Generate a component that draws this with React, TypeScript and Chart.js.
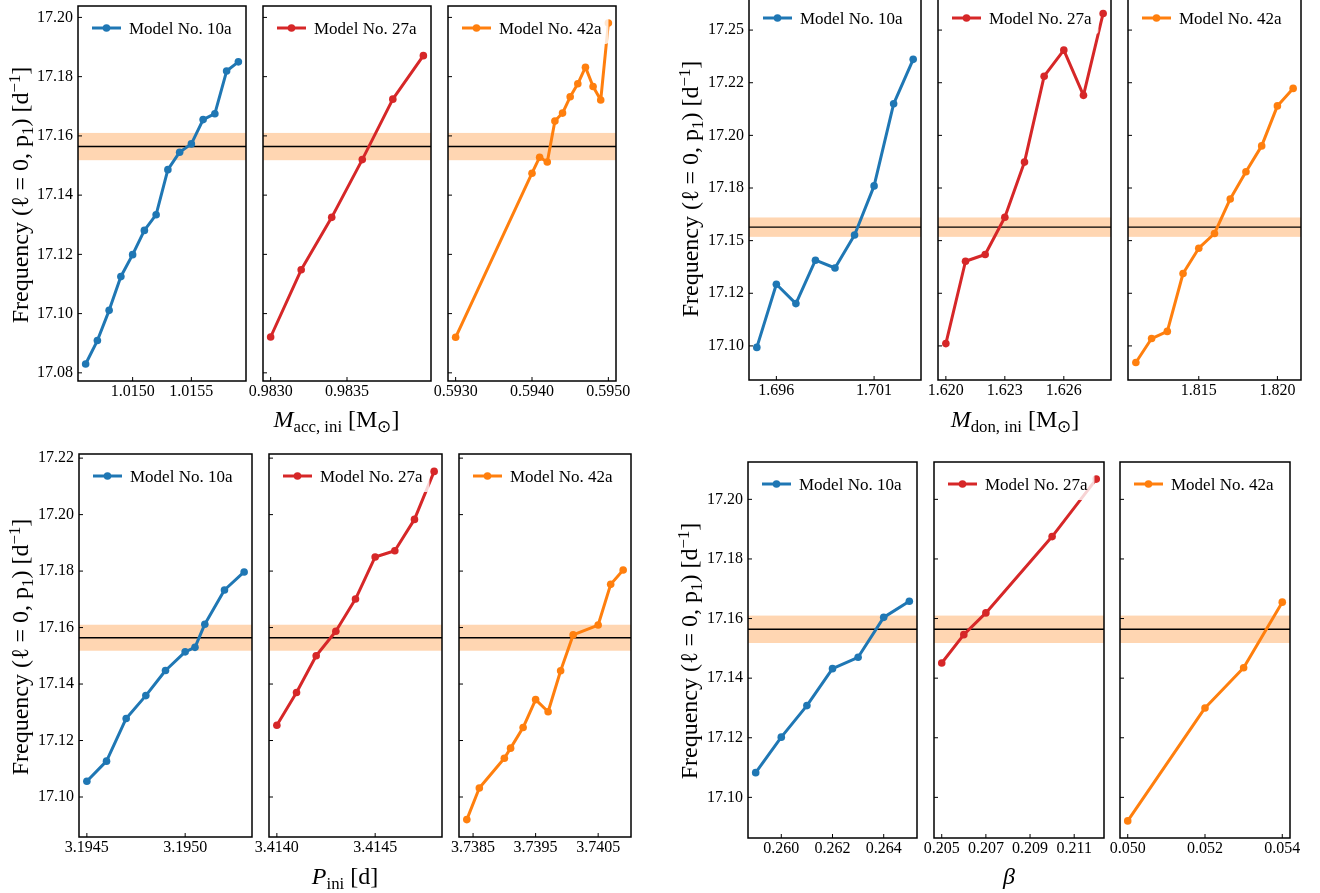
import React, { useEffect, useRef } from "react";
import { Chart, registerables } from "chart.js";

Chart.register(...registerables);

const FONT = "'Liberation Serif', 'Times New Roman', Times, serif";

const MODEL_LABELS = ["Model No. 10a", "Model No. 27a", "Model No. 42a"];
const MODEL_COLORS = ["#1f77b4", "#d62728", "#ff7f0e"];

const OBS_FREQ = 17.1564;
const OBS_ERR = 0.0046;

// ---- M_acc,ini ----
const MACC_10A_X = [1.0146, 1.0147, 1.0148, 1.0149, 1.015, 1.0151, 1.0152, 1.0153, 1.0154, 1.0155, 1.0156, 1.0157, 1.0158, 1.0159];
const MACC_10A_Y = [17.083, 17.0909, 17.1011, 17.1125, 17.1199, 17.1281, 17.1334, 17.1486, 17.1545, 17.1573, 17.1655, 17.1675, 17.1819, 17.185];
const MACC_27A_X = [0.983, 0.9832, 0.9834, 0.9836, 0.9838, 0.984];
const MACC_27A_Y = [17.0921, 17.1148, 17.1325, 17.152, 17.1724, 17.1871];
const MACC_42A_X = [0.593, 0.594, 0.5941, 0.5942, 0.5943, 0.5944, 0.5945, 0.5946, 0.5947, 0.5948, 0.5949, 0.595];
const MACC_42A_Y = [17.092, 17.1474, 17.1528, 17.1512, 17.165, 17.1677, 17.1732, 17.1776, 17.1832, 17.1767, 17.1721, 17.1981];
const MACC_Y_TICKS = [17.08, 17.1, 17.12, 17.14, 17.16, 17.18, 17.2];
const MACC_Y_LABELS = ["17.08", "17.10", "17.12", "17.14", "17.16", "17.18", "17.20"];
const MACC_X_TICKS = [[1.015, 1.0155], [0.983, 0.9835], [0.593, 0.594, 0.595]];
const MACC_X_LABELS = [["1.0150", "1.0155"], ["0.9830", "0.9835"], ["0.5930", "0.5940", "0.5950"]];

// ---- M_don,ini ----
const MDON_10A_X = [1.695, 1.696, 1.697, 1.698, 1.699, 1.7, 1.701, 1.702, 1.703];
const MDON_10A_Y = [17.0993, 17.1293, 17.1201, 17.1407, 17.137, 17.1527, 17.176, 17.215, 17.2361];
const MDON_27A_X = [1.62, 1.621, 1.622, 1.623, 1.624, 1.625, 1.626, 1.627, 1.628];
const MDON_27A_Y = [17.1011, 17.1402, 17.1434, 17.1611, 17.1873, 17.2281, 17.2405, 17.219, 17.2579];
const MDON_42A_X = [1.811, 1.812, 1.813, 1.814, 1.815, 1.816, 1.817, 1.818, 1.819, 1.82, 1.821];
const MDON_42A_Y = [17.0921, 17.1035, 17.1069, 17.1344, 17.1464, 17.1534, 17.1698, 17.1827, 17.195, 17.214, 17.2223];
const MDON_Y_TICKS = [17.1, 17.125, 17.15, 17.175, 17.2, 17.225, 17.25];
const MDON_Y_LABELS = ["17.10", "17.12", "17.15", "17.18", "17.20", "17.22", "17.25"];
const MDON_X_TICKS = [[1.696, 1.701], [1.62, 1.623, 1.626], [1.815, 1.82]];
const MDON_X_LABELS = [["1.696", "1.701"], ["1.620", "1.623", "1.626"], ["1.815", "1.820"]];

// ---- P_ini ----
const PINI_10A_X = [3.1945, 3.1946, 3.1947, 3.1948, 3.1949, 3.195, 3.19505, 3.1951, 3.1952, 3.1953];
const PINI_10A_Y = [17.1056, 17.1127, 17.1278, 17.1359, 17.1448, 17.1514, 17.153, 17.1612, 17.1733, 17.1797];
const PINI_27A_X = [3.414, 3.4141, 3.4142, 3.4143, 3.4144, 3.4145, 3.4146, 3.4147, 3.4148];
const PINI_27A_Y = [17.1254, 17.137, 17.15, 17.1587, 17.1701, 17.185, 17.1872, 17.1983, 17.2153];
const PINI_42A_X = [3.7384, 3.7386, 3.739, 3.7391, 3.7393, 3.7395, 3.7397, 3.7399, 3.7401, 3.7405, 3.7407, 3.7409];
const PINI_42A_Y = [17.092, 17.1032, 17.1137, 17.1173, 17.1246, 17.1345, 17.1302, 17.1447, 17.1574, 17.1609, 17.1753, 17.1804];
const PINI_Y_TICKS = [17.1, 17.12, 17.14, 17.16, 17.18, 17.2, 17.22];
const PINI_Y_LABELS = ["17.10", "17.12", "17.14", "17.16", "17.18", "17.20", "17.22"];
const PINI_X_TICKS = [[3.1945, 3.195], [3.414, 3.4145], [3.7385, 3.7395, 3.7405]];
const PINI_X_LABELS = [["3.1945", "3.1950"], ["3.4140", "3.4145"], ["3.7385", "3.7395", "3.7405"]];

// ---- beta ----
const BETA_10A_X = [0.259, 0.26, 0.261, 0.262, 0.263, 0.264, 0.265];
const BETA_10A_Y = [17.1083, 17.1202, 17.1308, 17.1432, 17.147, 17.1604, 17.1658];
const BETA_27A_X = [0.205, 0.206, 0.207, 0.21, 0.212];
const BETA_27A_Y = [17.1451, 17.1546, 17.1619, 17.1875, 17.2068];
const BETA_42A_X = [0.05, 0.052, 0.053, 0.054];
const BETA_42A_Y = [17.0921, 17.13, 17.1435, 17.1655];
const BETA_Y_TICKS = [17.1, 17.12, 17.14, 17.16, 17.18, 17.2];
const BETA_Y_LABELS = ["17.10", "17.12", "17.14", "17.16", "17.18", "17.20"];
const BETA_X_TICKS = [[0.26, 0.262, 0.264], [0.205, 0.207, 0.209, 0.211], [0.05, 0.052, 0.054]];
const BETA_X_LABELS = [["0.260", "0.262", "0.264"], ["0.205", "0.207", "0.209", "0.211"], ["0.050", "0.052", "0.054"]];

function padRange(vals: number[]): [number, number] {
  const lo = Math.min(...vals);
  const hi = Math.max(...vals);
  const m = (hi - lo) * 0.05;
  return [lo - m, hi + m];
}

const decoPlugin = {
  id: "deco",
  beforeDatasetsDraw(chart: any, _a: any, opts: any) {
    const { ctx, chartArea: a, scales } = chart;
    const y = scales.y;
    ctx.save();
    const y1 = y.getPixelForValue(opts.obs + opts.err);
    const y2 = y.getPixelForValue(opts.obs - opts.err);
    ctx.fillStyle = "rgba(255,127,14,0.32)";
    ctx.fillRect(a.left, y1, a.right - a.left, y2 - y1);
    const yl = y.getPixelForValue(opts.obs);
    ctx.strokeStyle = "#000";
    ctx.lineWidth = 1.4;
    ctx.beginPath();
    ctx.moveTo(a.left, yl);
    ctx.lineTo(a.right, yl);
    ctx.stroke();
    ctx.restore();
  },
  afterDatasetsDraw(chart: any) {
    const { ctx, chartArea: a } = chart;
    const ds = chart.data.datasets[0];
    ctx.save();
    ctx.font = `17px ${FONT}`;
    const tw = ctx.measureText(ds.label).width;
    const bx = a.left + 6;
    const by = a.top + 6;
    const bw = 45 + tw + 7;
    const bh = 32;
    ctx.fillStyle = "rgba(255,255,255,0.8)";
    ctx.beginPath();
    ctx.roundRect(bx, by, bw, bh, 3);
    ctx.fill();
    const ly = a.top + 22;
    ctx.strokeStyle = ds.borderColor;
    ctx.lineWidth = 3;
    ctx.beginPath();
    ctx.moveTo(a.left + 14, ly);
    ctx.lineTo(a.left + 43, ly);
    ctx.stroke();
    ctx.fillStyle = ds.borderColor;
    ctx.beginPath();
    ctx.arc(a.left + 28.5, ly, 3.8, 0, Math.PI * 2);
    ctx.fill();
    ctx.fillStyle = "#000";
    ctx.textBaseline = "alphabetic";
    ctx.textAlign = "left";
    ctx.fillText(ds.label, a.left + 51, a.top + 27.8);
    ctx.restore();
  },
  afterDraw(chart: any) {
    const { ctx, chartArea: a, scales } = chart;
    ctx.save();
    ctx.strokeStyle = "#000";
    ctx.lineWidth = 1;
    ctx.beginPath();
    for (const t of scales.y.ticks) {
      const py = scales.y.getPixelForValue(t.value);
      ctx.moveTo(a.left, py);
      ctx.lineTo(a.left + 4, py);
    }
    for (const t of scales.x.ticks) {
      const px = scales.x.getPixelForValue(t.value);
      ctx.moveTo(px, a.bottom);
      ctx.lineTo(px, a.bottom - 4);
    }
    ctx.stroke();
    ctx.lineWidth = 1.5;
    ctx.strokeRect(a.left, a.top, a.right - a.left, a.bottom - a.top);
    ctx.restore();
  },
};

type PanelProps = {
  xs: number[];
  ys: number[];
  label: string;
  color: string;
  xTicks: number[];
  xLabels: string[];
  yTicks: number[];
  yLabels: string[];
  showY: boolean;
  yRange: [number, number];
  l: number;
  r: number;
  t: number;
  b: number;
};

function Panel(p: PanelProps) {
  const ref = useRef<HTMLCanvasElement>(null);
  const ml = p.showY ? 80 : 30;
  const mr = 30;
  const mt = 12;
  const mb = 30;
  const w = p.r - p.l;
  const h = p.b - p.t;
  const cw = w + ml + mr;
  const ch = h + mt + mb;
  useEffect(() => {
    const [xmin, xmax] = padRange(p.xs);
    const chart = new Chart(ref.current as HTMLCanvasElement, {
      type: "line",
      data: {
        datasets: [
          {
            label: p.label,
            data: p.xs.map((x, i) => ({ x, y: p.ys[i] })),
            borderColor: p.color,
            backgroundColor: p.color,
            borderWidth: 3,
            pointRadius: 3.8,
            pointBorderWidth: 0,
            pointBackgroundColor: p.color,
            borderCapStyle: "round",
            borderJoinStyle: "round",
            tension: 0,
          } as any,
        ],
      },
      options: {
        animation: false,
        responsive: false,
        events: [],
        layout: { padding: { left: 0, top: mt, right: mr, bottom: 0 } },
        plugins: {
          legend: { display: false },
          tooltip: { enabled: false },
          deco: { obs: OBS_FREQ, err: OBS_ERR },
        } as any,
        scales: {
          x: {
            type: "linear",
            min: xmin,
            max: xmax,
            grid: { display: false, drawTicks: false },
            border: { display: false },
            ticks: {
              font: { family: FONT, size: 16 },
              color: "#000",
              padding: 1,
              autoSkip: false,
              maxRotation: 0,
              callback: (_v: any, i: number) => p.xLabels[i],
            },
            afterBuildTicks: (s: any) => {
              s.ticks = p.xTicks.map((v) => ({ value: v }));
            },
            afterFit: (s: any) => {
              s.height = mb;
              s.paddingLeft = 0;
              s.paddingRight = 0;
            },
          },
          y: {
            type: "linear",
            min: p.yRange[0],
            max: p.yRange[1],
            grid: { display: false, drawTicks: false },
            border: { display: false },
            ticks: {
              display: p.showY,
              font: { family: FONT, size: 16 },
              color: "#000",
              padding: 5,
              autoSkip: false,
              callback: (_v: any, i: number) => p.yLabels[i],
            },
            afterBuildTicks: (s: any) => {
              s.ticks = p.yTicks.map((v) => ({ value: v }));
            },
            afterFit: (s: any) => {
              s.width = ml;
              s.paddingTop = 0;
              s.paddingBottom = 0;
            },
          },
        } as any,
      },
      plugins: [decoPlugin as any],
    });
    return () => chart.destroy();
  }, []);
  return (
    <canvas
      ref={ref}
      width={cw}
      height={ch}
      style={{ position: "absolute", left: p.l - ml, top: p.t - mt, width: cw, height: ch }}
    />
  );
}

const subStyle: React.CSSProperties = { fontSize: "0.7em", position: "relative", top: "0.28em", lineHeight: 0, verticalAlign: "baseline" };
const supStyle: React.CSSProperties = { fontSize: "0.7em", position: "relative", top: "-0.45em", lineHeight: 0, verticalAlign: "baseline" };

const TITLE_SIZE = 24;

const YLabel = () => (
  <>
    Frequency (ℓ = 0, p<span style={subStyle}>1</span>) [d<span style={supStyle}>−1</span>]
  </>
);

type GroupDef = {
  series: [number[], number[]][];
  yTicks: number[];
  yLabels: string[];
  xTicks: number[][];
  xLabels: string[][];
  xTitle: React.ReactNode;
  top: number;
  bottom: number;
  panels: [number, number][];
  yTitleCapX: number;
  xTitleX: number;
  xTitleCapY: number;
};

const GROUPS: GroupDef[] = [
  {
    series: [[MACC_10A_X, MACC_10A_Y], [MACC_27A_X, MACC_27A_Y], [MACC_42A_X, MACC_42A_Y]],
    yTicks: MACC_Y_TICKS,
    yLabels: MACC_Y_LABELS,
    xTicks: MACC_X_TICKS,
    xLabels: MACC_X_LABELS,
    xTitle: (
      <>
        <i>M</i>
        <span style={subStyle}>acc, ini</span> [M<span style={subStyle}>⊙</span>]
      </>
    ),
    top: 6,
    bottom: 381,
    panels: [[78, 246], [263, 431], [448, 616]],
    yTitleCapX: 12,
    xTitleX: 336.5,
    xTitleCapY: 411.7,
  },
  {
    series: [[MDON_10A_X, MDON_10A_Y], [MDON_27A_X, MDON_27A_Y], [MDON_42A_X, MDON_42A_Y]],
    yTicks: MDON_Y_TICKS,
    yLabels: MDON_Y_LABELS,
    xTicks: MDON_X_TICKS,
    xLabels: MDON_X_LABELS,
    xTitle: (
      <>
        <i>M</i>
        <span style={subStyle}>don, ini</span> [M<span style={subStyle}>⊙</span>]
      </>
    ),
    top: -4,
    bottom: 380,
    panels: [[749, 921], [938, 1111], [1128, 1301]],
    yTitleCapX: 682,
    xTitleX: 1015,
    xTitleCapY: 411.7,
  },
  {
    series: [[PINI_10A_X, PINI_10A_Y], [PINI_27A_X, PINI_27A_Y], [PINI_42A_X, PINI_42A_Y]],
    yTicks: PINI_Y_TICKS,
    yLabels: PINI_Y_LABELS,
    xTicks: PINI_X_TICKS,
    xLabels: PINI_X_LABELS,
    xTitle: (
      <>
        <i>P</i>
        <span style={subStyle}>ini</span> [d]
      </>
    ),
    top: 454,
    bottom: 837,
    panels: [[79, 252], [269, 442], [459, 631]],
    yTitleCapX: 12,
    xTitleX: 345,
    xTitleCapY: 868.3,
  },
  {
    series: [[BETA_10A_X, BETA_10A_Y], [BETA_27A_X, BETA_27A_Y], [BETA_42A_X, BETA_42A_Y]],
    yTicks: BETA_Y_TICKS,
    yLabels: BETA_Y_LABELS,
    xTicks: BETA_X_TICKS,
    xLabels: BETA_X_LABELS,
    xTitle: <i>β</i>,
    top: 462,
    bottom: 838,
    panels: [[748, 917], [934, 1104], [1120, 1290]],
    yTitleCapX: 681,
    xTitleX: 1009,
    xTitleCapY: 868.3,
  },
];

// cap-top offset inside a line box of height TITLE_SIZE (Liberation Serif metrics)
const CAP_OFF = (TITLE_SIZE - 1.107 * TITLE_SIZE) / 2 + 0.891 * TITLE_SIZE - 0.662 * TITLE_SIZE;

function Group({ g }: { g: GroupDef }) {
  const allY = g.series.flatMap((s) => s[1]);
  const yRange = padRange(allY);
  const cy = (g.top + g.bottom) / 2 + 1;
  const half = TITLE_SIZE / 2;
  const cx = g.yTitleCapX + (half - CAP_OFF);
  return (
    <>
      {g.series.map((s, i) => (
        <Panel
          key={i}
          xs={s[0]}
          ys={s[1]}
          label={MODEL_LABELS[i]}
          color={MODEL_COLORS[i]}
          xTicks={g.xTicks[i]}
          xLabels={g.xLabels[i]}
          yTicks={g.yTicks}
          yLabels={g.yLabels}
          showY={i === 0}
          yRange={yRange}
          l={g.panels[i][0]}
          r={g.panels[i][1]}
          t={g.top}
          b={g.bottom}
        />
      ))}
      <div
        style={{
          position: "absolute",
          left: cx - 250,
          top: cy - half,
          width: 500,
          height: TITLE_SIZE,
          lineHeight: `${TITLE_SIZE}px`,
          fontSize: TITLE_SIZE,
          fontFamily: FONT,
          textAlign: "center",
          whiteSpace: "nowrap",
          transform: "rotate(-90deg)",
          color: "#000",
        }}
      >
        <YLabel />
      </div>
      <div
        style={{
          position: "absolute",
          left: g.xTitleX - 150,
          top: g.xTitleCapY - CAP_OFF,
          width: 300,
          height: TITLE_SIZE,
          lineHeight: `${TITLE_SIZE}px`,
          fontSize: TITLE_SIZE,
          fontFamily: FONT,
          textAlign: "center",
          whiteSpace: "nowrap",
          color: "#000",
        }}
      >
        {g.xTitle}
      </div>
    </>
  );
}

export default function App() {
  return (
    <div
      style={{
        position: "absolute",
        left: 0,
        top: 0,
        width: 1320,
        height: 893,
        overflow: "hidden",
        background: "#fff",
      }}
    >
      {GROUPS.map((g, i) => (
        <Group key={i} g={g} />
      ))}
    </div>
  );
}
